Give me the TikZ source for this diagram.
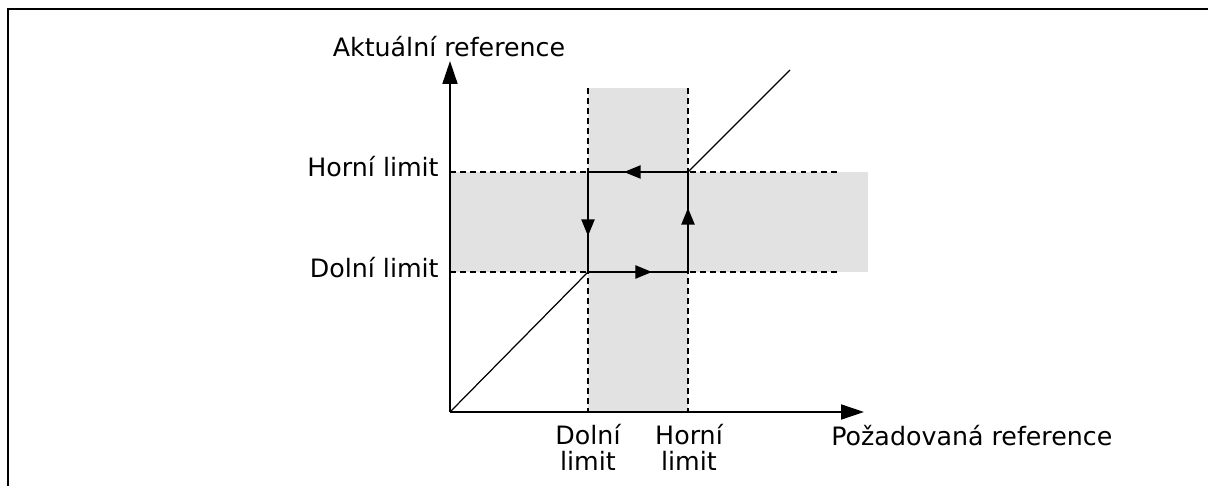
\documentclass[tikz,border=0pt]{standalone}
\usepackage{fontspec}
\setmainfont{DejaVu Sans}
\usetikzlibrary{arrows.meta,decorations.markings}
\definecolor{bandgray}{RGB}{226,226,226}

\begin{document}
\begin{tikzpicture}[x=0.02cm,y=-0.02cm,
  lbl/.style={font=\fontsize{14.4}{15}\selectfont,inner sep=0pt},
  axis/.style={line width=1.05pt,-{Triangle[length=13pt,width=8.5pt]}},
  guide/.style={dash pattern=on 3.4pt off 2.3pt,line width=0.7pt},
  loopedge/.style={line width=1.05pt,postaction={decorate},
    decoration={markings,mark=at position 0.64 with {\arrow{Triangle[length=9.5pt,width=7.5pt]}}}}]
  \useasboundingbox (0,0) rectangle (1208,486);
  % points of the plot
  \coordinate (O) at (450,412);
  \coordinate (xtip) at (864,412);
  \coordinate (ytip) at (450,61);
  \coordinate (diagend) at (790,70);
  \coordinate (ul) at (588,172);
  \coordinate (ur) at (688,172);
  \coordinate (ll) at (588,272);
  \coordinate (lr) at (688,272);
  % shaded bands
  \fill[bandgray] (588,88) rectangle (688,412);
  \fill[bandgray] (450,172) rectangle (868,272);
  % limit guides
  \draw[guide] (588,88) -- (588,412);
  \draw[guide] (688,88) -- (688,412);
  \draw[guide] (450,172) -- (838,172);
  \draw[guide] (450,272) -- (838,272);
  \draw[line width=0.7pt] (O) -- (ll);
  \draw[line width=0.7pt] (ur) -- (diagend);
  % hysteresis loop
  \draw[loopedge] (ll) -- (lr);
  \draw[loopedge] (lr) -- (ur);
  \draw[loopedge] (ur) -- (ul);
  \draw[loopedge] (ul) -- (ll);
  % axes
  \draw[axis] (O) -- (xtip);
  \draw[axis] (O) -- (ytip);
  \node[lbl,anchor=base] (yname) at (449,57) {Aktuální reference};
  \node[lbl,anchor=base west] (xname) at (831,445) {Požadovaná reference};
  \node[lbl,anchor=base east] (hlimy) at (439,177) {Horní limit};
  \node[lbl,anchor=base east] (dlimy) at (439,278) {Dolní limit};
  \node[lbl,align=center,anchor=base] (dlimx) at (588,471) {Dolní\\limit};
  \node[lbl,align=center,anchor=base] (hlimx) at (689,471) {Horní\\limit};
  % frame
  \draw[line width=1.4pt] (8,486) -- (8,9) -- (1208,9);
\end{tikzpicture}
\end{document}
